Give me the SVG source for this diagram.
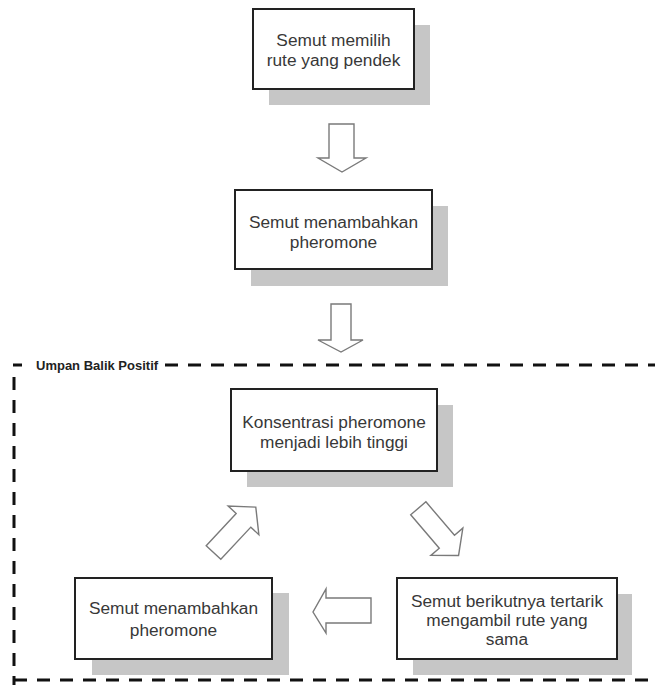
<svg xmlns="http://www.w3.org/2000/svg" width="655" height="685" viewBox="0 0 655 685">
<style>
.bg{fill:#ffffff}
.shadow{fill:#c6c6c6}
.box{fill:#ffffff;stroke:#222222;stroke-width:2}
.t{font-family:"Liberation Sans",Arial,sans-serif;font-size:17.3px;fill:#383838;text-anchor:middle}
.arrow{fill:#ffffff;stroke:#7a7a7a;stroke-width:1.4;stroke-linejoin:miter}
.frame{fill:none;stroke:#111111;stroke-width:3;stroke-dasharray:13 10}
.lbl{font-family:"Liberation Sans",Arial,sans-serif;font-size:13px;font-weight:bold;fill:#222222}
</style>
<rect class="bg" x="0" y="0" width="655" height="685"/>
<g id="frame">
<path class="frame" d="M165,365 H655"/>
<path class="frame" d="M13,365 H22"/>
<path class="frame" d="M14,377 V685"/>
<path class="frame" d="M14,680 H655"/>
<text class="lbl" x="36" y="370">Umpan Balik Positif</text>
</g>
<g id="connectors">
<polygon class="arrow" points="329,124 354,124 354,158 366,158 342,172 318,158 329,158"/>
<polygon class="arrow" points="331,304 351,304 351,340 363,340 341,352 318,340 331,340"/>
<polygon class="arrow" points="371,598 326,598 326,589 313,612 326,633 326,623 371,623"/>
<polygon class="arrow" transform="translate(213.5,552.5) rotate(-47)" points="0,-10 44,-10 44,-21 62,0 44,21 44,10 0,10"/>
<polygon class="arrow" transform="translate(418.3,508.3) rotate(49.5)" points="0,-10 44,-10 44,-21 62,0 44,21 44,10 0,10"/>
</g>
<g id="node1">
<rect class="shadow" x="269" y="25" width="161" height="80"/>
<rect class="box" x="253" y="9" width="161" height="80"/>
<text class="t" x="333.5" y="46">Semut memilih</text>
<text class="t" x="333.5" y="66">rute yang pendek</text>
</g>
<g id="node2">
<rect class="shadow" x="251" y="206" width="197" height="80"/>
<rect class="box" x="235" y="190" width="197" height="79"/>
<text class="t" x="333.5" y="228">Semut menambahkan</text>
<text class="t" x="333.5" y="248">pheromone</text>
</g>
<g id="node3">
<rect class="shadow" x="247" y="405" width="206" height="82"/>
<rect class="box" x="231" y="389" width="206" height="82"/>
<text class="t" x="334" y="428">Konsentrasi pheromone</text>
<text class="t" x="334" y="448">menjadi lebih tinggi</text>
</g>
<g id="node4">
<rect class="shadow" x="92" y="593" width="197" height="82"/>
<rect class="box" x="75" y="578" width="197" height="81"/>
<text class="t" x="173.5" y="614">Semut menambahkan</text>
<text class="t" x="173.5" y="636">pheromone</text>
</g>
<g id="node5">
<rect class="shadow" x="413" y="594" width="219" height="81"/>
<rect class="box" x="397" y="578" width="220" height="81"/>
<text class="t" x="507" y="607">Semut berikutnya tertarik</text>
<text class="t" x="507" y="626">mengambil rute yang</text>
<text class="t" x="507" y="645">sama</text>
</g>
</svg>
